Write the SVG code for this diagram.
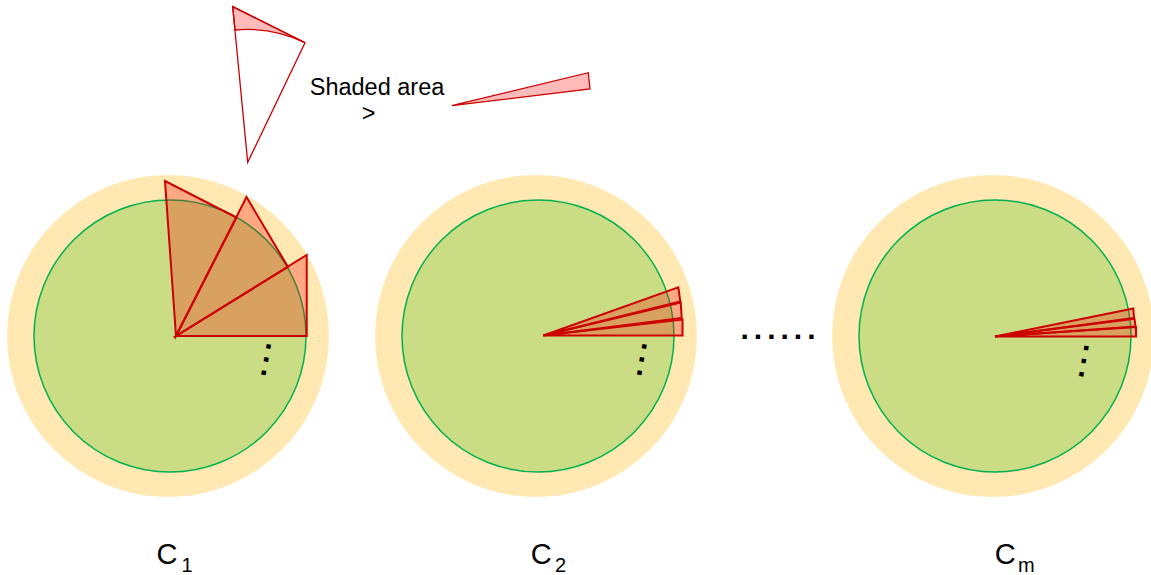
<svg xmlns="http://www.w3.org/2000/svg" width="1151" height="575" viewBox="0 0 1151 575">
<style>
.outer{fill:#ffe8b2;stroke:none}
.inner{fill:#cbdd84;stroke:#00b050;stroke-width:1.5}
.tri{fill:#ff0000;fill-opacity:0.27;stroke:#cc0000;stroke-width:2;stroke-linejoin:miter}
.thin{fill:#ff0000;fill-opacity:0.27;stroke:#cc0000;stroke-width:1.3}
.outline{fill:none;stroke:#cc0000;stroke-width:1.3}
.lbl{font-family:"Liberation Sans",Arial,sans-serif;fill:#000}
.dots{font-family:"Liberation Sans",Arial,sans-serif;font-size:30px;font-weight:bold;letter-spacing:5px;fill:#000}
</style>
<rect width="1151" height="575" fill="#ffffff"/>

<g id="zoom-triangle">
  <path class="thin" d="M232.7,6.7 L305,42.7 A133,133 0 0 0 235,30 Z"/>
  <polygon class="outline" points="232.7,6.7 305,42.7 247.7,162.3"/>
</g>

<g id="shaded-area-legend">
  <text class="lbl" font-size="23.5" x="377" y="95" text-anchor="middle">Shaded area</text>
  <text class="lbl" font-size="23.5" x="368.5" y="121" text-anchor="middle">&gt;</text>
  <polygon class="thin" points="451.7,105.7 588.3,72.7 590,89"/>
</g>

<g id="circle-1">
  <circle class="outer" cx="168" cy="336" r="161"/>
  <circle class="inner" cx="170" cy="336" r="136"/>
  <polygon class="tri" points="176,336 165,181 236.5,217.5"/>
  <polygon class="tri" points="176,336 246.5,197 288,267"/>
  <polygon class="tri" points="176,336 306.7,255 306.7,336"/>
  <text class="dots" transform="translate(268.3,346.7) rotate(100.2)" x="-4.5" y="2.1">...</text>
  <text class="lbl" font-size="29" x="156.5" y="564">C<tspan font-size="20" x="181.5" y="572">1</tspan></text>
</g>

<g id="circle-2">
  <circle class="outer" cx="536" cy="336" r="161"/>
  <circle class="inner" cx="538" cy="336" r="136"/>
  <polygon class="tri" points="543.3,335.5 680.3,301.5 678.3,287.3"/>
  <polygon class="tri" points="543.3,335.5 681.7,318 680.7,302.5"/>
  <polygon class="tri" points="543.3,335.5 682.5,335.5 682.5,319.5"/>
  <text class="dots" transform="translate(644,346.7) rotate(100.2)" x="-4.5" y="2.1">...</text>
  <text class="lbl" font-size="29" x="530.8" y="564">C<tspan font-size="20" x="555" y="572">2</tspan></text>
</g>

<g id="ellipsis">
  <text class="dots" x="740.5" y="339.4">......</text>
</g>

<g id="circle-m">
  <circle class="outer" cx="993" cy="336" r="161"/>
  <circle class="inner" cx="995" cy="336" r="136"/>
  <polygon class="tri" points="995,336.5 1134,318 1133.3,308.5"/>
  <polygon class="tri" points="995,336.5 1135.5,326.5 1134.5,318.8"/>
  <polygon class="tri" points="995,336.5 1136,336.5 1136,327"/>
  <text class="dots" transform="translate(1086,348.3) rotate(100.2)" x="-4.5" y="2.1">...</text>
  <text class="lbl" font-size="29" x="994.8" y="564">C<tspan font-size="20" x="1018" y="572">m</tspan></text>
</g>

<g id="connectors"></g>
</svg>
